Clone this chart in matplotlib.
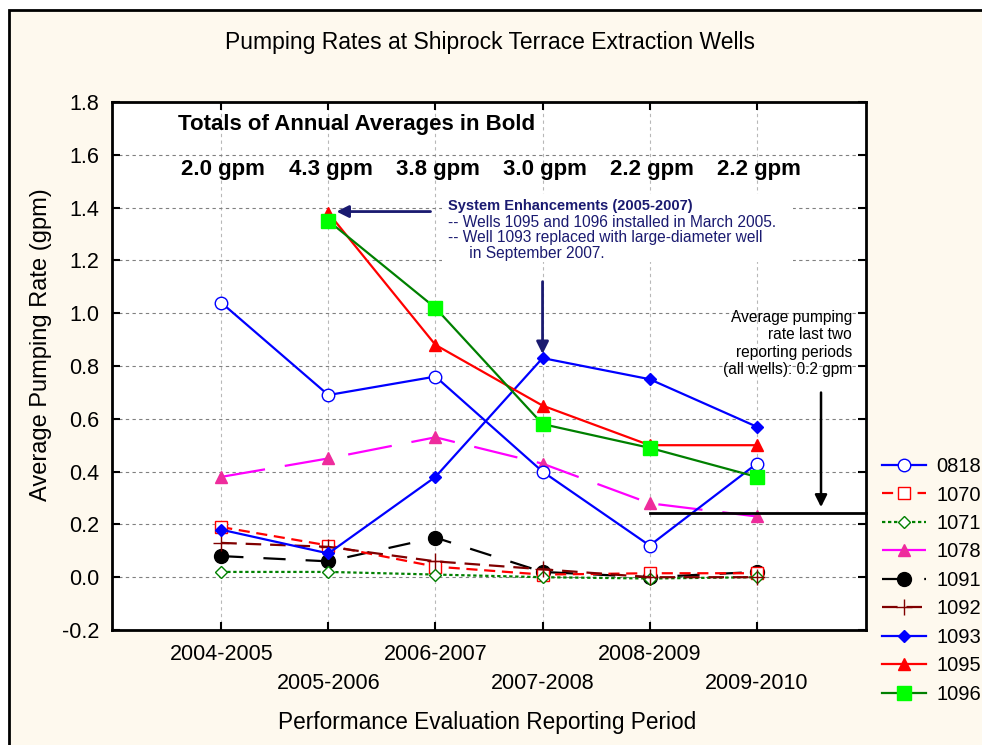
import matplotlib
matplotlib.use("Agg")
import matplotlib.pyplot as plt
from matplotlib.patches import Rectangle
import numpy as np

plt.rcParams['font.family'] = ['Liberation Sans', 'DejaVu Sans']

periods = ["2004-2005", "2005-2006", "2006-2007", "2007-2008", "2008-2009", "2009-2010"]
nan = np.nan
w0818 = [1.04, 0.69, 0.76, 0.40, 0.12, 0.43]
w1070 = [0.19, 0.12, 0.04, 0.01, 0.015, 0.015]
w1071 = [0.02, 0.02, 0.01, 0.0, -0.005, 0.0]
w1078 = [0.38, 0.45, 0.53, 0.43, 0.28, 0.23]
w1091 = [0.08, 0.06, 0.15, 0.02, 0.0, 0.02]
w1092 = [0.13, 0.115, 0.06, 0.03, 0.0, 0.0]
w1093 = [0.18, 0.09, 0.38, 0.83, 0.75, 0.57]
w1095 = [nan, 1.38, 0.88, 0.65, 0.50, 0.50]
w1096 = [nan, 1.35, 1.02, 0.58, 0.49, 0.38]
totals = ["2.0 gpm", "4.3 gpm", "3.8 gpm", "3.0 gpm", "2.2 gpm", "2.2 gpm"]
avg_last_two = 0.243

fig = plt.figure(figsize=(9.82, 7.45), dpi=100, facecolor='white')
fig.patches.append(Rectangle((9/982, -0.01), 1.0, 1 - 10/745 + 0.01, transform=fig.transFigure,
                             facecolor='#FEF9EE', edgecolor='black', linewidth=2, zorder=-10))
ax = fig.add_axes([112/982, 1 - 630/745, (866 - 112)/982, (630 - 102)/745])
ax.set_facecolor('white')

x = np.arange(len(periods))
lw = 1.6
ax.plot(x, w0818, color='#0000FF', lw=lw, marker='o', ms=9, mfc='white', mec='#0000FF', mew=1.0, label='0818', zorder=5)
ax.plot(x, w1070, color='#FF0000', lw=lw, ls=(0, (5, 3)), marker='s', ms=8.5, mfc='white', mec='#FF0000', mew=1.0, label='1070', zorder=4)
ax.plot(x, w1071, color='#008000', lw=lw, ls=(0, (1.5, 1.2)), marker='D', ms=6, mfc='white', mec='#008000', mew=1.0, label='1071', zorder=4)
ax.plot(x, w1078, color='#FF00FF', lw=lw, ls=(0, (20, 9)), marker='^', ms=8.5, mfc='#EE2C9C', mec='#EE2C9C', label='1078', zorder=4)
ax.plot(x, w1091, color='black', lw=lw, ls=(0, (10, 9)), marker='o', ms=10, mfc='black', mec='black', label='1091', zorder=3.5)
ax.plot(x, w1092, color='#800000', lw=lw, ls=(0, (7, 4)), marker='+', ms=12, mew=1.0, mec='#800000', label='1092', zorder=4)
ax.plot(x, w1093, color='#0000FF', lw=lw, marker='D', ms=6, mfc='#0000FF', mec='#0000FF', label='1093', zorder=5)
ax.plot(x, w1095, color='#FF0000', lw=lw, marker='^', ms=9, mfc='#FF0000', mec='#FF0000', label='1095', zorder=5)
ax.plot(x, w1096, color='#008000', lw=lw, marker='s', ms=9.5, mfc='#00FF00', mec='#00FF00', label='1096', zorder=6)

fs = 15.5
ax.set_xlim(-1.02, 6.02)
ax.set_ylim(-0.2, 1.8)
ax.set_yticks(np.arange(-0.2, 1.81, 0.2))
ax.set_yticklabels([f"{v:.1f}" for v in np.arange(-0.2, 1.81, 0.2)], fontsize=fs)
ax.set_xticks(x[0::2])
ax.set_xticklabels(periods[0::2], fontsize=fs)
ax.set_xticks(x[1::2], minor=True)
ax.set_xticklabels(periods[1::2], minor=True, fontsize=fs)
ax.tick_params(axis='x', which='major', direction='in', length=6, width=1.5, pad=10, top=True)
ax.tick_params(axis='x', which='minor', direction='in', length=6, width=1.5, pad=31, top=True)
ax.tick_params(axis='y', direction='in', length=6, width=1.5, pad=9, right=True)
ax.grid(True, which='both', axis='x', color='#B8B8B8', ls=(0, (3, 3)), lw=0.8)
ax.grid(True, which='major', axis='y', color='#808080', ls=(0, (3, 3)), lw=0.8)
for s in ax.spines.values():
    s.set_linewidth(2)

ax.set_ylabel("Average Pumping Rate (gpm)", fontsize=17)
ax.yaxis.set_label_coords(-0.08, 0.54)
fig.text(487/982, 1 - 722/745, "Performance Evaluation Reporting Period", ha='center', va='center', fontsize=16.3)
fig.text(490/982, 1 - 43/745, "Pumping Rates at Shiprock Terrace Extraction Wells", ha='center', va='center', fontsize=16.5)

ax.text(-0.4, 1.715, "Totals of Annual Averages in Bold", fontsize=16, fontweight='bold', va='center', ha='left')
for xi, t in zip(x, totals):
    ax.text(xi + 0.02, 1.545, t, fontsize=16, fontweight='bold', ha='center', va='center')

navy = '#1A1A70'
ax.text(2.12, 1.405, "System Enhancements (2005-2007)", color=navy, fontsize=10.5, fontweight='bold',
        ha='left', va='center', zorder=7)
ax.text(2.12, 1.285, "-- Wells 1095 and 1096 installed in March 2005.\n-- Well 1093 replaced with large-diameter well\n     in September 2007.",
        color=navy, fontsize=11.2, ha='left', va='center', linespacing=1.05, zorder=7)
ax.add_patch(Rectangle((2.06, 1.195), 3.28, 0.255, facecolor='white', edgecolor='none', zorder=2.5))
ax.annotate("", xy=(1.05, 1.385), xytext=(1.98, 1.385),
            arrowprops=dict(arrowstyle='-|>', color=navy, lw=2, mutation_scale=18), zorder=7)
ax.annotate("", xy=(3.0, 0.835), xytext=(3.0, 1.13),
            arrowprops=dict(arrowstyle='-|>', color=navy, lw=2, mutation_scale=18), zorder=7)

ax.plot([4.0, 6.02], [avg_last_two, avg_last_two], color='black', lw=2, zorder=6, clip_on=False)
ax.annotate("", xy=(5.6, 0.255), xytext=(5.6, 0.71),
            arrowprops=dict(arrowstyle='-|>', color='black', lw=1.8, mutation_scale=18), zorder=7)
ax.text(5.89, 0.885, "Average pumping\nrate last two\nreporting periods\n(all wells): 0.2 gpm",
        fontsize=11.2, ha='right', va='center', linespacing=1.2, zorder=7)

handles, labels = ax.get_legend_handles_labels()
fig.legend(handles, labels, loc='upper left', bbox_to_anchor=(874/982, 1 - 449/745),
           frameon=False, fontsize=14.5, handlelength=2.2, labelspacing=0.47, handletextpad=0.5,
           borderaxespad=0)

fig.savefig("out.png", dpi=100, facecolor=fig.get_facecolor())
